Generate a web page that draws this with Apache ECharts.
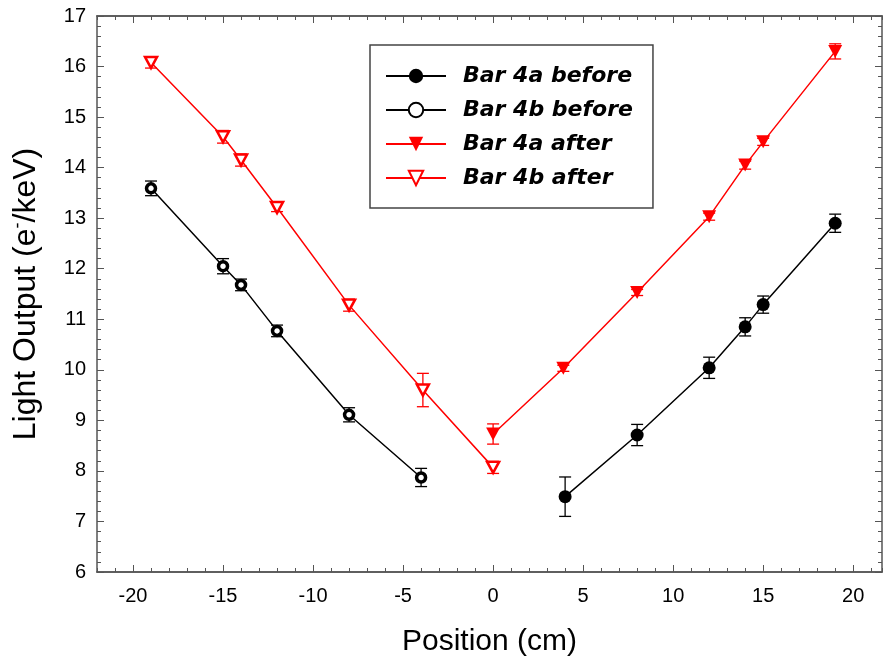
<!DOCTYPE html>
<html>
<head>
<meta charset="utf-8">
<script src="https://cdn.jsdelivr.net/npm/echarts@6/dist/echarts.min.js"></script>
<style>
  html, body { margin: 0; padding: 0; background: #fff; }
  #chart { width: 883px; height: 663px; }
</style>
</head>
<body>
<div id="chart"></div>
<script>
// values (position in cm, light output in e-/keV, ± error)
const xBar4aBefore = [4, 8, 12, 14, 15, 19];
const yBar4aBefore = [7.49, 8.71, 10.04, 10.85, 11.29, 12.90];
const eBar4aBefore = [0.39, 0.21, 0.21, 0.18, 0.17, 0.18];

const xBar4bBefore = [-19, -15, -14, -12, -8, -4];
const yBar4bBefore = [13.59, 12.05, 11.68, 10.77, 9.11, 7.87];
const eBar4bBefore = [0.145, 0.15, 0.115, 0.115, 0.14, 0.18];

const xBar4aAfter = [0, 3.9, 8, 12, 14, 15, 19];
const yBar4aAfter = [8.73, 10.03, 11.53, 13.03, 14.05, 14.51, 16.30];
const eBar4aAfter = [0.2, 0.06, 0.06, 0.07, 0.08, 0.07, 0.15];

const xBar4bAfter = [-19, -15, -14, -12, -8, -3.9, 0];
const yBar4bAfter = [16.08, 14.61, 14.15, 13.21, 11.28, 9.60, 8.07];
const eBar4bAfter = [0.11, 0.125, 0.12, 0.08, 0.12, 0.33, 0.12];

const xMajorTicks = [-20, -15, -10, -5, 0, 5, 10, 15, 20];

const FONT = 'Liberation Sans, Arial, sans-serif';
const LEGEND_FONT = 'DejaVu Sans, Liberation Sans, sans-serif';
const AXIS_COLOR = '#555';
const RED = '#ff0000';
const TRI_DOWN = 'path://M0,0 L10,0 L5,9 Z';

const pts = (xs, ys) => xs.map((x, i) => [x, ys[i]]);
const errs = (xs, ys, es) => xs.map((x, i) => [x, ys[i] - es[i], ys[i] + es[i]]);

function errorBars(color) {
    return function (params, api) {
        const x = api.value(0);
        const lo = api.coord([x, api.value(1)]);
        const hi = api.coord([x, api.value(2)]);
        const w = 6;
        const style = { stroke: color, lineWidth: 1.3 };
        return {
            type: 'group',
            children: [
                { type: 'line', shape: { x1: lo[0], y1: lo[1], x2: hi[0], y2: hi[1] }, style: style },
                { type: 'line', shape: { x1: lo[0] - w, y1: lo[1], x2: lo[0] + w, y2: lo[1] }, style: style },
                { type: 'line', shape: { x1: hi[0] - w, y1: hi[1], x2: hi[0] + w, y2: hi[1] }, style: style }
            ]
        };
    };
}

function errSeries(xs, ys, es, color) {
    return {
        type: 'custom',
        renderItem: errorBars(color),
        data: errs(xs, ys, es),
        encode: { x: 0, y: [1, 2] },
        z: 2,
        silent: true
    };
}

const xBase = {
    type: 'value', min: -22, max: 21.6,
    axisLine: { onZero: false, lineStyle: { color: AXIS_COLOR, width: 1.5 } },
    splitLine: { show: false }
};
const yBase = {
    type: 'value', min: 6, max: 17, interval: 1,
    axisLine: { onZero: false, lineStyle: { color: AXIS_COLOR, width: 1.5 } },
    axisTick: { inside: true, length: 7, lineStyle: { color: AXIS_COLOR } },
    minorTick: { show: true, splitNumber: 5, length: 4, lineStyle: { color: AXIS_COLOR } },
    splitLine: { show: false }
};

const chart = echarts.init(document.getElementById('chart'));
chart.setOption({
    animation: false,
    backgroundColor: '#fff',
    textStyle: { fontFamily: FONT },
    grid: { left: 97, right: 1, top: 16, bottom: 91, containLabel: false },
    legend: {
        data: ['Bar 4a before', 'Bar 4b before', 'Bar 4a after', 'Bar 4b after'],
        orient: 'vertical',
        left: 370, top: 45,
        padding: [20, 20, 19, 15],
        itemGap: 12,
        itemWidth: 60, itemHeight: 18,
        borderColor: '#444', borderWidth: 1.5,
        textStyle: { fontFamily: LEGEND_FONT, fontSize: 22, fontWeight: 'bold', fontStyle: 'italic', color: '#000', padding: [0, 0, 0, 12] }
    },
    xAxis: [
        Object.assign({}, xBase, {
            position: 'bottom',
            axisTick: { inside: true, length: 7, customValues: xMajorTicks, lineStyle: { color: AXIS_COLOR } },
            axisLabel: { customValues: xMajorTicks, fontSize: 20, margin: 14, color: '#000', fontFamily: FONT },
            name: 'Position (cm)', nameLocation: 'middle', nameGap: 55,
            nameTextStyle: { fontSize: 30, color: '#000', fontFamily: FONT }
        }),
        Object.assign({}, xBase, {
            position: 'bottom', interval: 1,
            axisTick: { inside: true, length: 4, lineStyle: { color: AXIS_COLOR } },
            axisLabel: { show: false }
        }),
        Object.assign({}, xBase, {
            position: 'top',
            axisTick: { inside: true, length: 7, customValues: xMajorTicks, lineStyle: { color: AXIS_COLOR } },
            axisLabel: { show: false }
        }),
        Object.assign({}, xBase, {
            position: 'top', interval: 1,
            axisTick: { inside: true, length: 4, lineStyle: { color: AXIS_COLOR } },
            axisLabel: { show: false }
        })
    ],
    yAxis: [
        Object.assign({}, yBase, {
            position: 'left',
            axisLabel: { fontSize: 20, margin: 11, color: '#000', fontFamily: FONT },
            name: '{a|Light Output (e}{s|-}{a|/keV)}', nameLocation: 'middle', nameGap: 54,
            nameTextStyle: {
                color: '#000',
                rich: {
                    a: { fontSize: 32, fontFamily: FONT, color: '#000', lineHeight: 34 },
                    s: { fontSize: 18, fontFamily: FONT, color: '#000', verticalAlign: 'top', lineHeight: 34 }
                }
            }
        }),
        Object.assign({}, yBase, {
            position: 'right',
            axisLabel: { show: false }
        })
    ],
    series: [
        errSeries(xBar4aBefore, yBar4aBefore, eBar4aBefore, '#000'),
        errSeries(xBar4bBefore, yBar4bBefore, eBar4bBefore, '#000'),
        errSeries(xBar4aAfter, yBar4aAfter, eBar4aAfter, RED),
        errSeries(xBar4bAfter, yBar4bAfter, eBar4bAfter, RED),
        {
            name: 'Bar 4a before', type: 'line', data: pts(xBar4aBefore, yBar4aBefore),
            symbol: 'circle', symbolSize: 13, z: 3,
            itemStyle: { color: '#000' },
            lineStyle: { color: '#000', width: 1.5 }
        },
        {
            name: 'Bar 4b before', type: 'line', data: pts(xBar4bBefore, yBar4bBefore),
            symbol: 'circle', symbolSize: 9, z: 3,
            itemStyle: { color: '#fff', borderColor: '#000', borderWidth: 3.5 },
            lineStyle: { color: '#000', width: 1.5 }
        },
        {
            name: 'Bar 4a after', type: 'line', data: pts(xBar4aAfter, yBar4aAfter),
            symbol: TRI_DOWN, symbolSize: [14, 13], z: 3,
            itemStyle: { color: RED },
            lineStyle: { color: RED, width: 1.5 }
        },
        {
            name: 'Bar 4b after', type: 'line', data: pts(xBar4bAfter, yBar4bAfter),
            symbol: TRI_DOWN, symbolSize: [12, 11], z: 3,
            itemStyle: { color: '#fff', borderColor: RED, borderWidth: 2.5 },
            lineStyle: { color: RED, width: 1.5 }
        }
    ]
});
</script>
</body>
</html>
